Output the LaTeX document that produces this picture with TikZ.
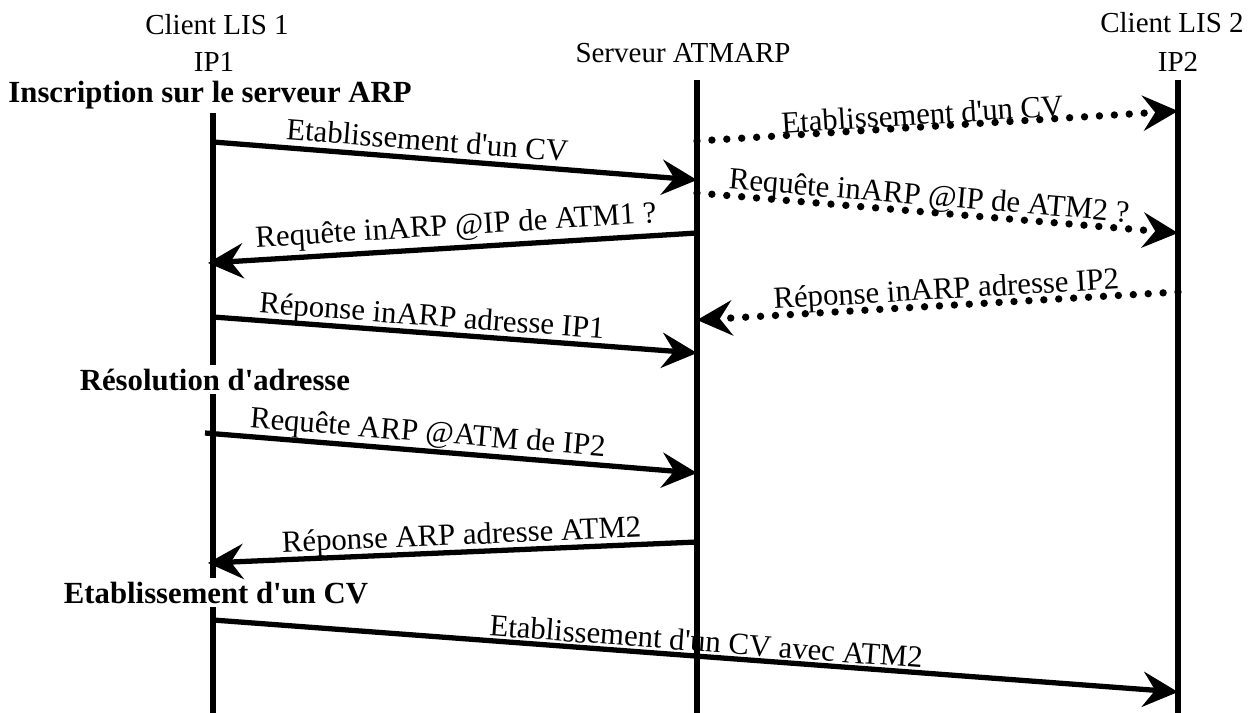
\documentclass[tikz,border=0pt]{standalone}
\usepackage{fontspec}
\setmainfont{Liberation Serif}[Ligatures=TeXOff]
\usetikzlibrary{arrows.meta}

\begin{document}
\begin{tikzpicture}[x=0.02cm, y=-0.02cm,
  font=\fontsize{17.5}{20}\selectfont,
  ligne/.style={line width=3.2pt},
  msg/.style={line width=3pt, -{Stealth[length=20pt,width=20pt,inset=7pt]}},
  pointille/.style={msg, line cap=round, line width=4.2pt, dash pattern=on 0pt off 8.5pt},
  entete/.style={font=\fontsize{16.5}{18}\selectfont, inner sep=0pt, anchor=base},
  etape/.style={font=\bfseries\fontsize{17.5}{20}\selectfont, fill=white, inner sep=2pt, anchor=base},
  lbl/.style={sloped, inner sep=0pt}]
\useasboundingbox (0,0) rectangle (1258,713);

% entetes
\node[entete] (client1) at (217,35) {Client LIS 1};
\node[entete] (ip1) at (214,72) {IP1};
\node[entete] (serveur) at (683,63) {Serveur ATMARP};
\node[entete] (client2) at (1172,33) {Client LIS 2};
\node[entete] (ip2) at (1178,72) {IP2};

% lignes de vie
\coordinate (c1haut) at (213,112);
\coordinate (c1bas) at (213,713);
\coordinate (srvhaut) at (697,80);
\coordinate (srvbas) at (697,713);
\coordinate (c2haut) at (1178,80);
\coordinate (c2bas) at (1178,713);
\draw[ligne] (c1haut) -- (c1bas);
\draw[ligne] (srvhaut) -- (srvbas);
\draw[ligne] (c2haut) -- (c2bas);

% etapes
\node[etape] (inscription) at (210,103) {Inscription sur le serveur ARP};
\node[etape] (resolution) at (215,390) {Résolution d'adresse};
\node[etape] (etablissement) at (216,603) {Etablissement d'un CV};

% extremites des messages
\coordinate (m1a) at (213,142);
\coordinate (m1b) at (697,180);
\coordinate (m2a) at (697,141);
\coordinate (m2b) at (1178,111);
\coordinate (m3a) at (697,233);
\coordinate (m3b) at (208,263);
\coordinate (m4a) at (697,193);
\coordinate (m4b) at (1178,233);
\coordinate (m5a) at (213,317);
\coordinate (m5b) at (697,353);
\coordinate (m6a) at (1178,292);
\coordinate (m6b) at (697,320);
\coordinate (m7a) at (205,433);
\coordinate (m7b) at (697,473);
\coordinate (m8a) at (697,542);
\coordinate (m8b) at (208,563);
\coordinate (m9a) at (213,620);
\coordinate (m9b) at (1178,692);

% messages
\draw[msg] (m1a) -- node[lbl, pos=0.44, above=3pt] {Etablissement d'un CV} (m1b);
\draw[pointille] (m2a) -- node[lbl, pos=0.47, above=-1pt] {Etablissement d'un CV} (m2b);
\draw[msg] (m3a) -- node[lbl, pos=0.49, above=2pt] {Requête inARP @IP de ATM1 ?} (m3b);
\draw[pointille] (m4a) -- node[lbl, pos=0.48, above=-2pt] {Requête inARP @IP de ATM2 ?} (m4b);
\draw[msg] (m5a) -- node[lbl, pos=0.45, above=-1pt] {Réponse inARP adresse IP1} (m5b);
\draw[pointille] (m6a) -- node[lbl, pos=0.48, above=-2pt] {Réponse inARP adresse IP2} (m6b);
\draw[msg] (m7a) -- node[lbl, pos=0.45, above=0pt] {Requête ARP @ATM de IP2} (m7b);
\draw[msg] (m8a) -- node[lbl, pos=0.48, above=-1pt] {Réponse ARP adresse ATM2} (m8b);
\draw[msg] (m9a) -- node[lbl, pos=0.51, above=1pt] {Etablissement d'un CV avec ATM2} (m9b);
\end{tikzpicture}
\end{document}
